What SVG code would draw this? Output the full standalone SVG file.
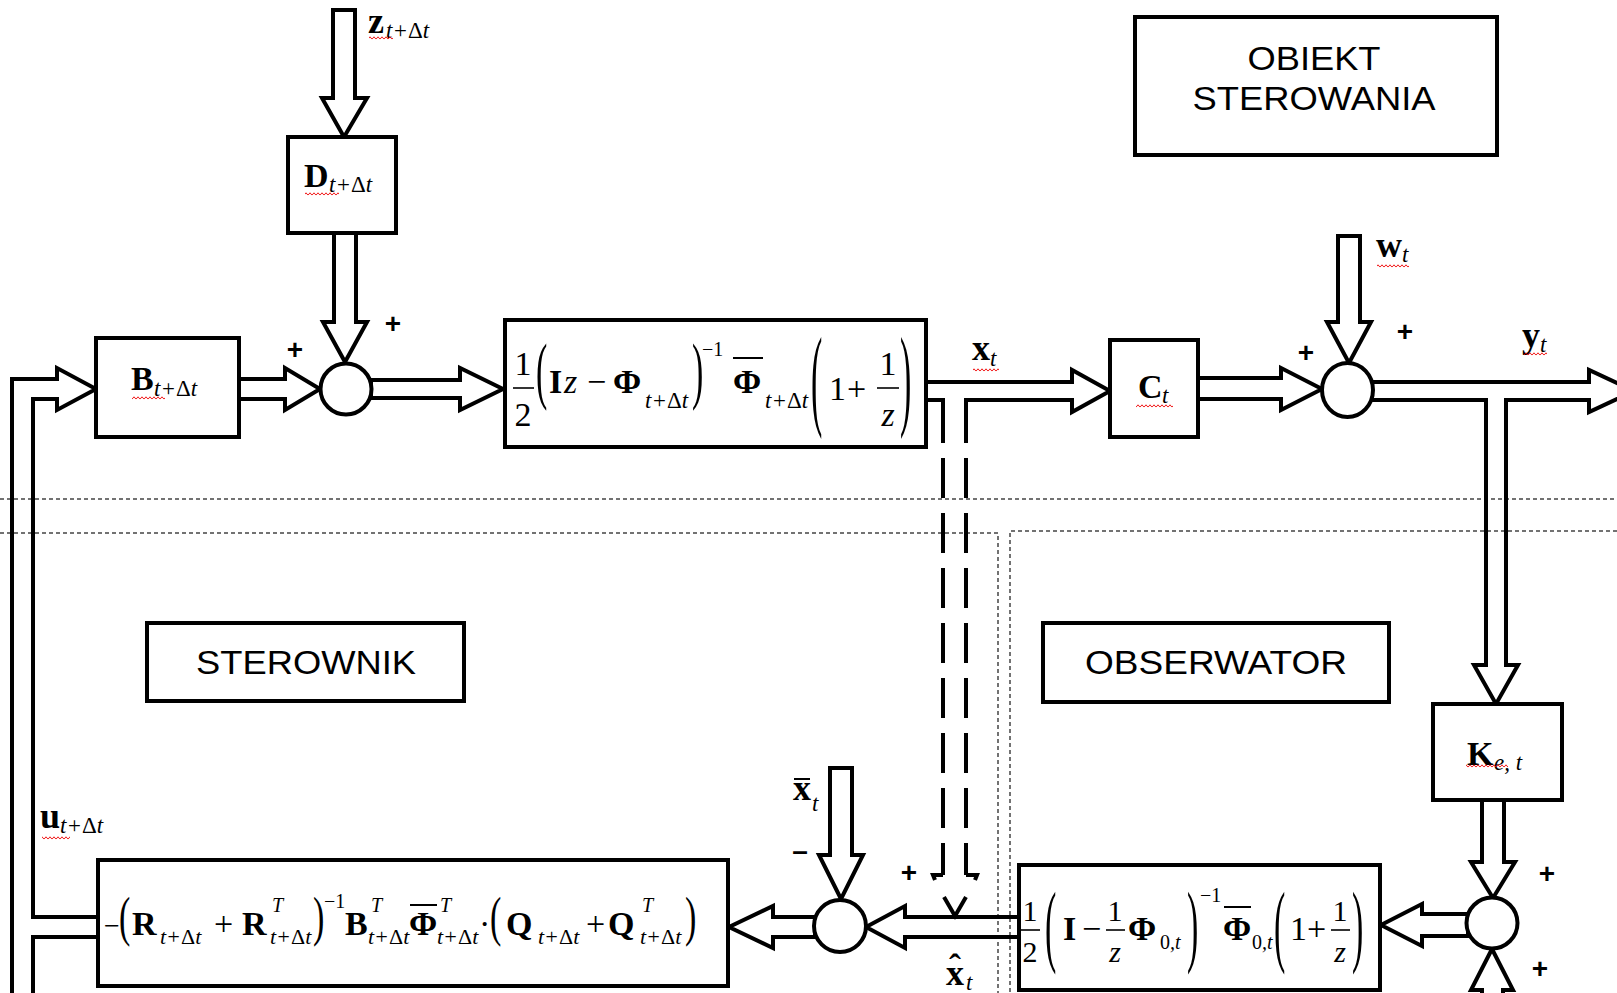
<svg xmlns="http://www.w3.org/2000/svg" width="1617" height="993" viewBox="0 0 1617 993">
<defs>
<style>
.box{fill:#fff;stroke:#000;stroke-width:4}
.sum{fill:#fff;stroke:#000;stroke-width:4}
.arr{fill:#fff;stroke:#000;stroke-width:4;stroke-linejoin:miter}
.ln{fill:none;stroke:#000;stroke-width:4;stroke-linejoin:miter}
.dsh{fill:none;stroke:#000;stroke-width:4;stroke-dasharray:40 15;stroke-dashoffset:8}
.sep{fill:none;stroke:#444;stroke-width:1.5;stroke-dasharray:4 3}
.bar{stroke:#000;stroke-width:1.6}
.ttl{font-family:"Liberation Sans",Arial,sans-serif;font-size:33px;fill:#000}
.b{font-family:"Liberation Serif","Times New Roman",serif;font-weight:bold;font-size:34px}
.bl{font-family:"Liberation Serif","Times New Roman",serif;font-weight:bold;font-size:36px}
.r{font-family:"Liberation Serif","Times New Roman",serif;font-size:34px}
.i{font-family:"Liberation Serif","Times New Roman",serif;font-style:italic;font-size:34px}
.s{font-family:"Liberation Serif","Times New Roman",serif;font-style:italic;font-size:23px}
.sp{font-family:"Liberation Serif","Times New Roman",serif;font-size:20px}
.pa{font-family:"Liberation Serif","Times New Roman",serif;font-size:34px}
.pl{font-family:"Liberation Sans",Arial,sans-serif;font-weight:bold;font-size:28px;text-anchor:middle}
.up{font-style:normal}
.sq{fill:url(#wavy)}
</style>
<pattern id="wavy" width="4" height="4" patternUnits="userSpaceOnUse"><path d="M0,3.2 L2,0.8 L4,3.2" fill="none" stroke="#e00" stroke-width="0.9"/></pattern>
</defs>
<rect x="0" y="0" width="1617" height="993" fill="#fff"/>

<g id="separators">
<line class="sep" x1="0" y1="499" x2="1617" y2="499"/>
<polyline class="sep" points="0,533 998,533 998,993"/>
<polyline class="sep" points="1617,531 1010,531 1010,993"/>
</g>

<g id="connectors">
<polygon class="arr" points="333,10 355,10 355,98 367,98 344,137 322,98 333,98"/>
<polyline class="ln" points="334,233 334,322 323,322 345,362 367,322 356,322 356,233"/>
<polyline class="ln" points="239,379 285,379 285,368 320,389 285,410 285,399 239,399"/>
<polygon class="arr" points="371,380 460,380 460,368 503,389 460,410 460,398 371,398"/>
<polyline class="ln" points="12,995 12,379 57,379 57,368 96,389 57,410 57,399 33,399 33,917 98,917"/>
<polyline class="ln" points="98,937 33,937 33,995"/>
<polyline class="ln" points="926,382 1072,382 1072,370 1110,391 1072,412 1072,400 966,400 966,412"/>
<polyline class="ln" points="926,400 943,400 943,412"/>
<line class="dsh" x1="943" y1="875" x2="943" y2="400"/>
<line class="dsh" x1="966" y1="875" x2="966" y2="400"/>
<polyline class="ln" points="943,875 933,875 935,880"/>
<polyline class="ln" points="966,875 977,875 975,880"/>
<polyline class="ln" points="944,897 955,916 966,897"/>
<polyline class="ln" points="1198,378 1281,378 1281,368 1322,389 1281,410 1281,399 1198,399"/>
<polygon class="arr" points="1338,236 1360,236 1360,322 1371,322 1349,363 1327,322 1338,322"/>
<polyline class="ln" points="1370,382 1589,382 1589,370 1634,391 1589,412 1589,400 1506,400 1506,665 1518,665 1496,704 1474,665 1486,665 1486,400 1370,400"/>
<polygon class="arr" points="1482,800 1504,800 1504,862 1515,862 1493,898 1471,862 1482,862"/>
<polygon class="arr" points="1468,914 1422,914 1422,904 1381,925 1422,946 1422,936 1468,936"/>
<polyline class="ln" points="1482,1000 1482,990 1471,990 1492,949 1513,990 1503,990 1503,1000"/>
<polyline class="ln" points="1019,917 905,917 905,906 866,927 905,948 905,937 1019,937"/>
<polygon class="arr" points="830,768 852,768 852,855 863,855 841,899 819,855 830,855"/>
<polygon class="arr" points="815,917 773,917 773,906 729,927 773,948 773,937 815,937"/>
</g>

<g id="signal-labels">
<text x="368" y="33"><tspan class="bl">z</tspan><tspan class="s" x="386" y="38">t+<tspan class="up">Δ</tspan>t</tspan></text>
<rect class="sq" x="369" y="36" width="24" height="4"/>
<text x="972" y="360"><tspan class="bl">x</tspan><tspan class="s" x="990" y="366">t</tspan></text>
<rect class="sq" x="973" y="368" width="26" height="4"/>
<text x="1376" y="257"><tspan class="bl">w</tspan><tspan class="s" x="1402" y="262">t</tspan></text>
<rect class="sq" x="1377" y="264" width="32" height="4"/>
<text x="1522" y="347"><tspan class="bl">y</tspan><tspan class="s" x="1540" y="352">t</tspan></text>
<rect class="sq" x="1524" y="352" width="23" height="4"/>
<text x="40" y="828"><tspan class="bl">u</tspan><tspan class="s" x="60" y="833">t+<tspan class="up">Δ</tspan>t</tspan></text>
<rect class="sq" x="42" y="836" width="28" height="4"/>
<text x="793" y="800"><tspan class="bl">x</tspan><tspan class="s" x="812" y="811">t</tspan></text>
<line x1="794" y1="779" x2="810" y2="779" class="bar" style="stroke-width:2"/>
<text x="946" y="985"><tspan class="bl">x</tspan><tspan class="bl" x="949" y="979">ˆ</tspan><tspan class="s" x="966" y="990">t</tspan></text>
<text class="pl" x="295" y="359">+</text>
<text class="pl" x="393" y="333">+</text>
<text class="pl" x="1306" y="362">+</text>
<text class="pl" x="1405" y="341">+</text>
<text class="pl" x="909" y="882">+</text>
<text class="pl" x="800" y="860">–</text>
<text class="pl" x="1547" y="883">+</text>
<text class="pl" x="1540" y="978">+</text>
</g>

<g id="sum1"><circle class="sum" cx="346" cy="389" r="25.5"/></g>
<g id="sum2"><ellipse class="sum" cx="1347.5" cy="390" rx="25.5" ry="27"/></g>
<g id="sum3"><circle class="sum" cx="840" cy="926" r="26"/></g>
<g id="sum4"><circle class="sum" cx="1492" cy="923" r="25.5"/></g>

<g id="D-block">
<rect class="box" x="288" y="137" width="108" height="96"/>
<text x="304" y="187"><tspan class="b">D</tspan><tspan class="s" x="329" y="192">t+<tspan class="up">Δ</tspan>t</tspan></text>
<rect class="sq" x="305" y="192" width="34" height="4"/>
</g>

<g id="B-block">
<rect class="box" x="96" y="338" width="143" height="99"/>
<text x="131" y="390"><tspan class="b">B</tspan><tspan class="s" x="154" y="396">t+<tspan class="up">Δ</tspan>t</tspan></text>
<rect class="sq" x="132" y="396" width="33" height="4"/>
</g>

<g id="plant-transfer">
<rect class="box" x="505" y="320" width="421" height="127"/>
<text class="r" x="523" y="375" text-anchor="middle">1</text>
<line class="bar" x1="513" y1="388" x2="534" y2="388"/>
<text class="r" x="523" y="426" text-anchor="middle">2</text>
<text class="pa" transform="translate(536,395) scale(1,2.2)">(</text>
<text class="b" x="549" y="393">I</text>
<text class="i" x="564" y="393">z</text>
<text class="r" x="587" y="393">−</text>
<text class="b" x="613" y="393">Φ</text>
<text class="s" x="645" y="408">t+<tspan class="up">Δ</tspan>t</text>
<text class="pa" transform="translate(692,395) scale(1,2.2)">)</text>
<text class="sp" x="702" y="356">−1</text>
<line class="bar" x1="733" y1="358" x2="763" y2="358" style="stroke-width:2"/>
<text class="b" x="733" y="393">Φ</text>
<text class="s" x="765" y="408">t+<tspan class="up">Δ</tspan>t</text>
<text class="pa" transform="translate(811,415) scale(1,3.28)">(</text>
<text class="r" x="829" y="400">1</text>
<text class="r" x="847" y="400">+</text>
<text class="r" x="888" y="375" text-anchor="middle">1</text>
<line class="bar" x1="877" y1="388" x2="899" y2="388"/>
<text class="i" x="888" y="426" text-anchor="middle">z</text>
<text class="pa" transform="translate(900,415) scale(1,3.28)">)</text>
</g>

<g id="C-block">
<rect class="box" x="1110" y="340" width="88" height="97"/>
<text x="1138" y="398"><tspan class="b">C</tspan><tspan class="s" x="1162" y="403">t</tspan></text>
<rect class="sq" x="1136" y="404" width="37" height="4"/>
</g>

<g id="obiekt-label">
<rect class="box" x="1135" y="17" width="362" height="138"/>
<text class="ttl" x="1314" y="70" text-anchor="middle" textLength="133" lengthAdjust="spacingAndGlyphs">OBIEKT</text>
<text class="ttl" x="1314" y="110" text-anchor="middle" textLength="243" lengthAdjust="spacingAndGlyphs">STEROWANIA</text>
</g>

<g id="sterownik-label">
<rect class="box" x="147" y="623" width="317" height="78"/>
<text class="ttl" x="306" y="674" text-anchor="middle" textLength="220" lengthAdjust="spacingAndGlyphs">STEROWNIK</text>
</g>

<g id="obserwator-label">
<rect class="box" x="1043" y="623" width="346" height="79"/>
<text class="ttl" x="1216" y="674" text-anchor="middle" textLength="262" lengthAdjust="spacingAndGlyphs">OBSERWATOR</text>
</g>

<g id="K-block">
<rect class="box" x="1433" y="704" width="129" height="96"/>
<text x="1467" y="765"><tspan class="b">K</tspan><tspan class="s" x="1494" y="770">e, t</tspan></text>
<rect class="sq" x="1466" y="764" width="42" height="4"/>
</g>

<g id="controller-gain">
<rect class="box" x="98" y="860" width="630" height="126"/>
<text class="r" x="104" y="935" style="font-size:28px">−</text>
<text class="pa" transform="translate(119,935) scale(1,1.62)">(</text>
<text class="b" x="132" y="935">R</text>
<text class="s" x="160" y="944" style="font-size:22px">t+<tspan class="up">Δ</tspan>t</text>
<text class="r" x="214" y="935">+</text>
<text class="b" x="242" y="935">R</text>
<text class="s" x="272" y="912" style="font-size:20px">T</text>
<text class="s" x="270" y="944" style="font-size:22px">t+<tspan class="up">Δ</tspan>t</text>
<text class="pa" transform="translate(313,935) scale(1,1.62)">)</text>
<text class="sp" x="324" y="908">−1</text>
<text class="b" x="345" y="935">B</text>
<text class="s" x="371" y="912" style="font-size:20px">T</text>
<text class="s" x="368" y="944" style="font-size:22px">t+<tspan class="up">Δ</tspan>t</text>
<line x1="410" y1="905" x2="437" y2="905" class="bar" style="stroke-width:2"/>
<text class="b" x="409" y="935">Φ</text>
<text class="s" x="440" y="912" style="font-size:20px">T</text>
<text class="s" x="437" y="944" style="font-size:22px">t+<tspan class="up">Δ</tspan>t</text>
<text class="r" x="479" y="935">·</text>
<text class="pa" transform="translate(490,935) scale(1,1.62)">(</text>
<text class="b" x="506" y="935">Q</text>
<text class="s" x="538" y="944" style="font-size:22px">t+<tspan class="up">Δ</tspan>t</text>
<text class="r" x="586" y="935">+</text>
<text class="b" x="608" y="935">Q</text>
<text class="s" x="642" y="912" style="font-size:20px">T</text>
<text class="s" x="640" y="944" style="font-size:22px">t+<tspan class="up">Δ</tspan>t</text>
<text class="pa" transform="translate(685,935) scale(1,1.62)">)</text>
</g>

<g id="observer-transfer">
<rect class="box" x="1019" y="865" width="361" height="125"/>
<text class="r" x="1030" y="921" text-anchor="middle" style="font-size:30px">1</text>
<line class="bar" x1="1021" y1="930" x2="1040" y2="930"/>
<text class="r" x="1030" y="962" text-anchor="middle" style="font-size:30px">2</text>
<text class="pa" transform="translate(1045,955) scale(1,2.7)">(</text>
<text class="b" x="1063" y="940">I</text>
<text class="r" x="1082" y="940">−</text>
<text class="r" x="1115" y="921" text-anchor="middle" style="font-size:30px">1</text>
<line class="bar" x1="1106" y1="930" x2="1125" y2="930"/>
<text class="i" x="1115" y="962" text-anchor="middle" style="font-size:30px">z</text>
<text class="b" x="1128" y="940">Φ</text>
<text class="sp" x="1160" y="949">0<tspan style="font-style:italic">,t</tspan></text>
<text class="pa" transform="translate(1187,955) scale(1,2.7)">)</text>
<text class="sp" x="1200" y="902">−1</text>
<line class="bar" x1="1224" y1="907" x2="1251" y2="907" style="stroke-width:2"/>
<text class="b" x="1223" y="940">Φ</text>
<text class="sp" x="1252" y="949">0<tspan style="font-style:italic">,t</tspan></text>
<text class="pa" transform="translate(1274,955) scale(1,2.7)">(</text>
<text class="r" x="1290" y="940">1</text>
<text class="r" x="1307" y="940">+</text>
<text class="r" x="1340" y="921" text-anchor="middle" style="font-size:30px">1</text>
<line class="bar" x1="1331" y1="930" x2="1350" y2="930"/>
<text class="i" x="1340" y="962" text-anchor="middle" style="font-size:30px">z</text>
<text class="pa" transform="translate(1352,955) scale(1,2.7)">)</text>
</g>
</svg>
